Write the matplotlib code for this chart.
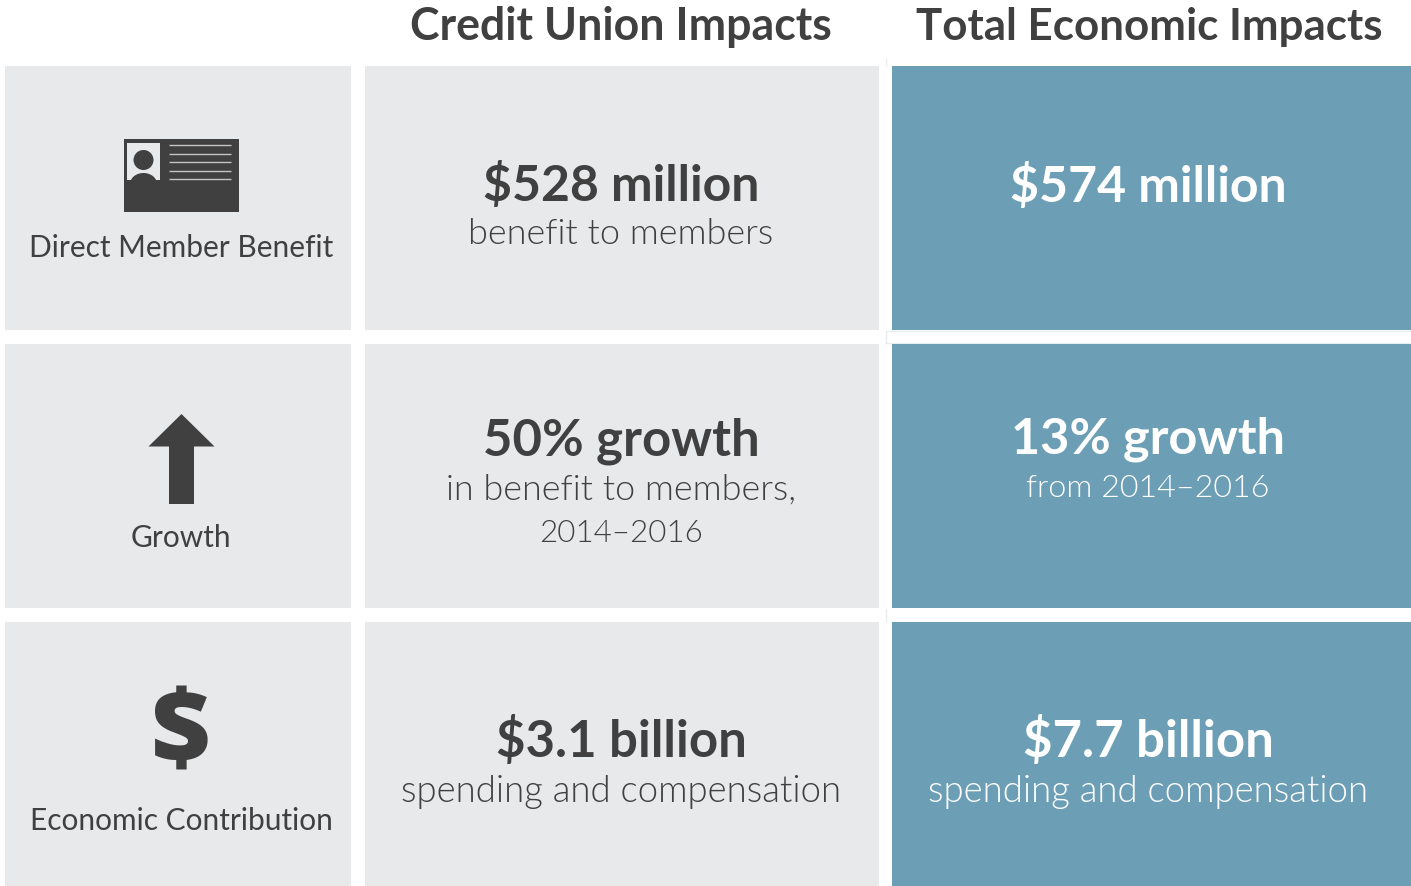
import matplotlib
matplotlib.use("Agg")
import matplotlib.pyplot as plt
from matplotlib import font_manager as fm
from matplotlib.patches import Rectangle, Polygon, Circle, Ellipse

plt.rcParams["font.family"] = ["Lato", "DejaVu Sans"]

GREY = "#e8e9eb"
BLUE = "#6c9fb5"
DARK = "#404040"

columns = ["Credit Union Impacts", "Total Economic Impacts"]
row_names = ["Direct Member Benefit", "Growth", "Economic Contribution"]
credit_big = ["$528 million", "50% growth", "$3.1 billion"]
credit_small = ["benefit to members", "in benefit to members,", "spending and compensation"]
total_big = ["$574 million", "13% growth", "$7.7 billion"]
total_small = ["", "from 2014–2016", "spending and compensation"]
credit_years = "2014–2016"


def light_font(size):
    # weight lookup lands on Hairline, so pick the light cut by file name
    for f in fm.fontManager.ttflist:
        if f.fname.endswith("Lato-Light.ttf"):
            return fm.FontProperties(fname=f.fname, size=size)
    return fm.FontProperties(family="Lato", size=size)


def heavy_font(size):
    for f in fm.fontManager.ttflist:
        if f.fname.endswith("OpenSans-ExtraBold.ttf"):
            return fm.FontProperties(fname=f.fname, size=size)
    return fm.FontProperties(family="Lato", weight="bold", size=size)


fig = plt.figure(figsize=(14.11, 8.86), dpi=100)
ax = fig.add_axes([0, 0, 1, 1])
ax.set_xlim(0, 1411)
ax.set_ylim(886, 0)
ax.axis("off")

# thin guide marks left between the cells
for y0, y1 in [(59, 65), (331, 343), (609, 621)]:
    ax.plot([885.5, 885.5], [y0, y1], color="#e8eef0", lw=1, zorder=1)
ax.plot([885.5, 1411], [331, 331], color="#e8eef0", lw=1, zorder=1)
ax.plot([885.5, 1411], [343, 343], color="#e8eef0", lw=1, zorder=1)

row_tops = [66, 344, 622]
row_h = 264
for top in row_tops:
    ax.add_patch(Rectangle((5, top), 346, row_h, fc=GREY, ec="none", zorder=2))
    ax.add_patch(Rectangle((365, top), 514, row_h, fc=GREY, ec="none", zorder=2))
    ax.add_patch(Rectangle((892, top), 519, row_h, fc=BLUE, ec="none", zorder=2))

ax.text(621, 27, columns[0], ha="center", va="center", fontsize=32.1, fontweight="bold", color=DARK)
ax.text(1149, 27, columns[1], ha="center", va="center", fontsize=31.6, fontweight="bold", color=DARK)

name_y = [248, 538, 821]
for name, y in zip(row_names, name_y):
    ax.text(181, y, name, ha="center", va="center", fontsize=21.5, color=DARK, zorder=3)

big_y = [185, 441, 741]
big_size = [36, 36.6, 36.6]
small_y = [234, 490, 792]
small_size = [25.9, 25.8, 26.3]
for i in range(3):
    ax.text(621, big_y[i], credit_big[i], ha="center", va="center", fontsize=big_size[i], fontweight="bold",
            color=DARK, zorder=3)
    ax.text(621, small_y[i], credit_small[i], ha="center", va="center", color=DARK,
            fontproperties=light_font(small_size[i]), zorder=3)
ax.text(621, 534, credit_years, ha="center", va="center", color=DARK, fontproperties=light_font(22.6), zorder=3)

total_big_y = [186, 439, 741]
total_big_size = [36, 36.3, 36.6]
total_small_y = [0, 488, 792]
total_small_size = [0, 23.2, 26.3]
for i in range(3):
    ax.text(1148, total_big_y[i], total_big[i], ha="center", va="center", fontsize=total_big_size[i],
            fontweight="bold", color="white", zorder=3)
    if total_small[i]:
        ax.text(1148, total_small_y[i], total_small[i], ha="center", va="center", color="white",
                fontproperties=light_font(total_small_size[i]), zorder=3)

# id card icon
ax.add_patch(Rectangle((124, 139), 115, 73, fc=DARK, ec="none", zorder=3))
ax.add_patch(Rectangle((127, 143), 33, 37, fc=GREY, ec="none", zorder=3))
ax.add_patch(Circle((143.5, 160), 10, fc=DARK, ec="none", zorder=4))
ax.add_patch(Ellipse((143.5, 184), 27, 22, fc=DARK, ec="none", zorder=4))
ax.add_patch(Rectangle((127, 180), 33, 8, fc=DARK, ec="none", zorder=4))
for y in [145, 153.5, 162, 170.5, 179]:
    ax.plot([169, 231], [y, y], color="#c4c4c4", lw=1, solid_capstyle="butt", zorder=4)

# growth arrow icon
ax.add_patch(Polygon([(181.5, 414), (214.5, 446.5), (194, 446.5), (194, 504), (169, 504),
                      (169, 446.5), (148.5, 446.5)], closed=True, fc=DARK, ec="none", zorder=3))

# dollar icon
ax.text(181.5, 738, "$", ha="center", va="center", color=DARK, fontproperties=heavy_font(74), zorder=3)

fig.savefig("out.png", dpi=100, facecolor="white")
